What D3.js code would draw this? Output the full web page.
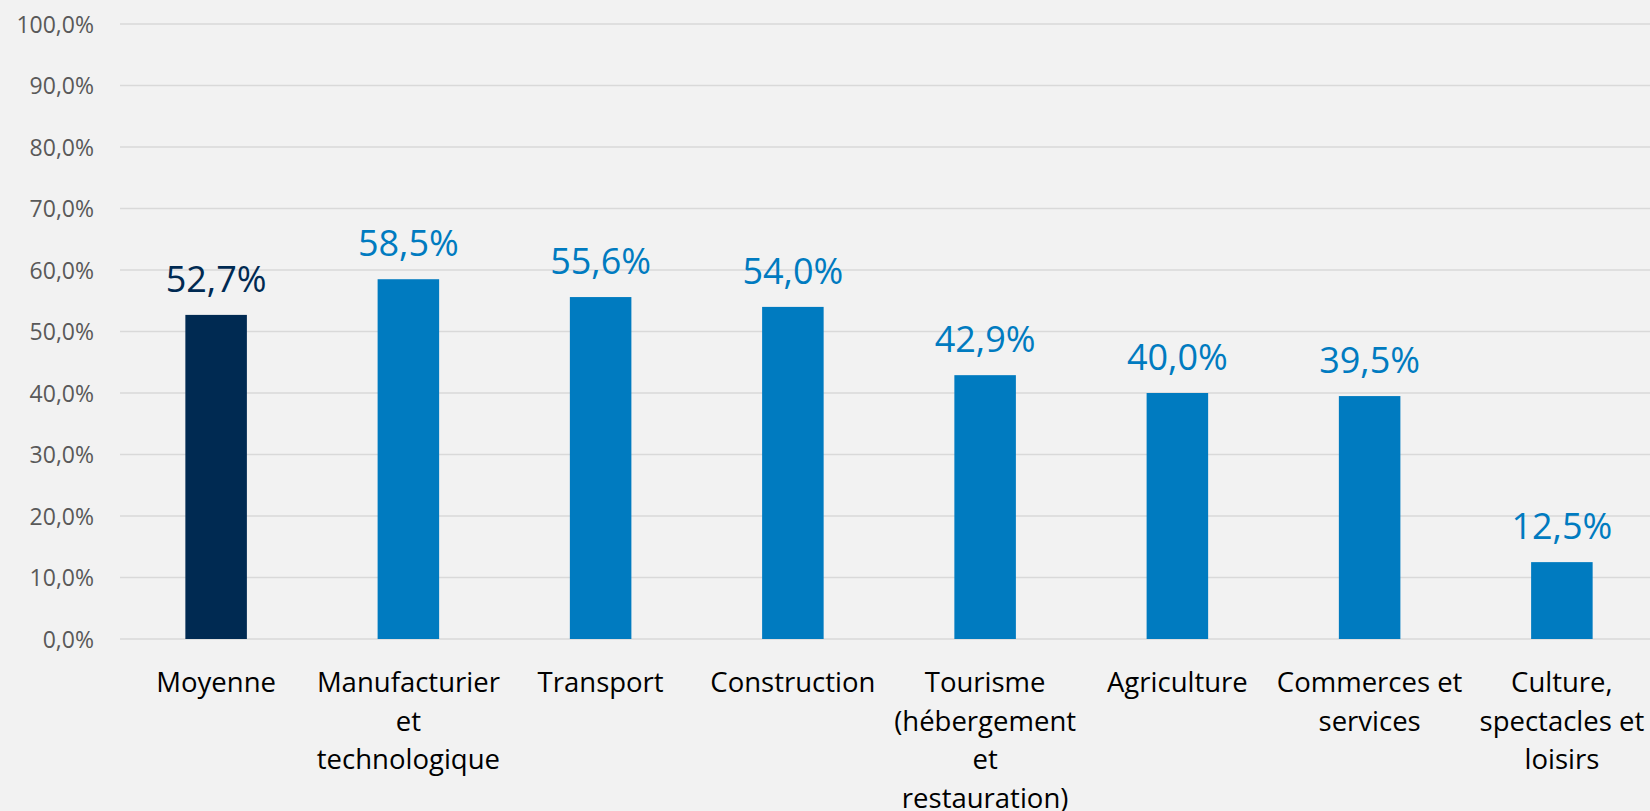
<!DOCTYPE html>
<html>
<head>
<meta charset="utf-8">
<script src="https://cdn.jsdelivr.net/npm/d3@7"></script>
<style>
  html, body { margin: 0; padding: 0; background: #f2f2f2; }
  svg { display: block; font-family: "Open Sans", sans-serif; }
</style>
</head>
<body>
<svg width="1650" height="811"></svg>
<script>
  // data
  var categories = [
    "Moyenne",
    "Manufacturier\net\ntechnologique",
    "Transport",
    "Construction",
    "Tourisme\n(hébergement\net\nrestauration)",
    "Agriculture",
    "Commerces et\nservices",
    "Culture,\nspectacles et\nloisirs"
  ];
  var values = [52.7, 58.5, 55.6, 54.0, 42.9, 40.0, 39.5, 12.5];
  var yTicks = [0, 10, 20, 30, 40, 50, 60, 70, 80, 90, 100];

  var svg = d3.select("svg"),
    plotLeft = 120,
    plotRight = 1658,
    plotTop = 24,
    plotBottom = 639;

  var fmt = function (v) {
    return v.toFixed(1).replace(".", ",") + "%";
  };

  var x = d3
    .scaleBand()
    .domain(categories)
    .range([plotLeft, plotRight])
    .paddingInner(0.68)
    .paddingOuter(0.34);

  var y = d3.scaleLinear().domain([0, 100]).range([plotBottom, plotTop]);

  // gridlines
  svg
    .append("g")
    .selectAll("line")
    .data(yTicks)
    .enter()
    .append("line")
    .attr("x1", plotLeft)
    .attr("x2", plotRight)
    .attr("y1", function (d) { return y(d); })
    .attr("y2", function (d) { return y(d); })
    .style("stroke", "#d9d9d9")
    .style("stroke-width", 1.5);

  // y axis labels
  var yAxis = svg
    .append("g")
    .attr("transform", "translate(94,0)")
    .call(d3.axisLeft(y).tickValues(yTicks).tickFormat(fmt).tickSize(0).tickPadding(0));
  yAxis.select(".domain").remove();
  yAxis
    .selectAll("text")
    .style("font-family", "Open Sans, sans-serif")
    .style("font-size", "23px")
    .style("fill", "#595959")
    .attr("dy", "0.36em");

  // bars
  svg
    .append("g")
    .selectAll("rect")
    .data(values)
    .enter()
    .append("rect")
    .attr("x", function (d, i) { return x(categories[i]); })
    .attr("width", x.bandwidth())
    .attr("y", function (d) { return y(d); })
    .attr("height", function (d) { return y(0) - y(d); })
    .style("fill", function (d, i) { return i == 0 ? "#002a52" : "#007bc0"; });

  // value labels
  svg
    .append("g")
    .selectAll("text")
    .data(values)
    .enter()
    .append("text")
    .attr("x", function (d, i) { return x(categories[i]) + x.bandwidth() / 2; })
    .attr("y", function (d) { return y(d) - 23; })
    .attr("text-anchor", "middle")
    .style("font-size", "36px")
    .style("fill", function (d, i) { return i == 0 ? "#002a52" : "#007bc0"; })
    .text(fmt);

  // category labels
  var xAxis = svg
    .append("g")
    .attr("transform", "translate(0," + plotBottom + ")")
    .call(d3.axisBottom(x).tickSize(0).tickPadding(0));
  xAxis.select(".domain").remove();
  xAxis.selectAll("text").remove();
  xAxis
    .selectAll(".tick")
    .append("text")
    .attr("text-anchor", "middle")
    .style("font-family", "Open Sans, sans-serif")
    .style("font-size", "27.5px")
    .style("fill", "#000")
    .each(function (d) {
      var lines = d.split("\n");
      var t = d3.select(this);
      lines.forEach(function (l, k) {
        t.append("tspan")
          .attr("x", 0)
          .attr("y", 53 + k * 38.5)
          .text(l);
      });
    });
</script>
</body>
</html>
